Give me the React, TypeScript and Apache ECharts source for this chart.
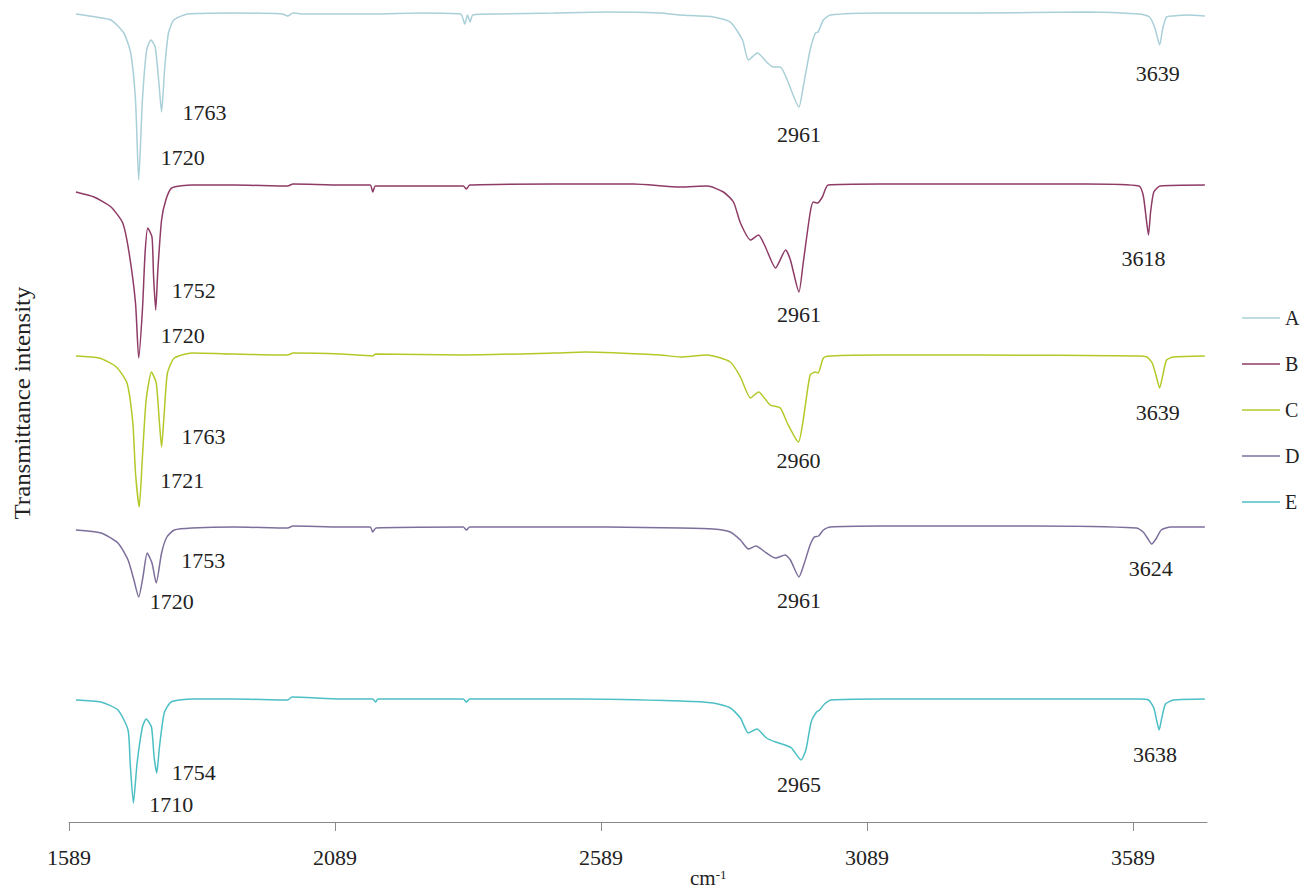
import { useEffect, useRef } from "react";
import * as echarts from "echarts";

// ---------- data ----------
const seriesNames = ["A", "B", "C", "D", "E"];

const xMin = 1589;
const xMax = 3728;
const xTickValues = [1589, 2089, 2589, 3089, 3589];

// [wavenumber (cm-1), transmittance (a.u., stacked offset)]
const spectrumA: [number, number][] = [
  [1602, 808], [1640, 805], [1668, 802], [1692, 789], [1705, 769], [1714, 722], [1720, 642],
  [1727, 722], [1735, 772], [1743, 782], [1751, 775], [1758, 739], [1763, 710], [1769, 755],
  [1776, 789], [1786, 802], [1812, 808], [1900, 809], [1990, 808], [2000, 806], [2010, 809],
  [2030, 808], [2160, 808], [2250, 809], [2325, 808], [2333, 798], [2338, 807], [2343, 800],
  [2348, 807], [2400, 808], [2500, 809], [2600, 810], [2700, 809], [2738, 807], [2800, 805],
  [2832, 800], [2855, 782], [2866, 762], [2883, 769], [2902, 759], [2913, 755], [2926, 755],
  [2939, 742], [2961, 715], [2969, 735], [2982, 772], [2992, 789], [2997, 790], [3007, 802],
  [3020, 807], [3114, 809], [3300, 809], [3500, 810], [3600, 808], [3620, 805], [3630, 794],
  [3639, 777], [3645, 794], [3652, 805], [3665, 806], [3690, 807], [3724, 806],
];

const spectrumB: [number, number][] = [
  [1602, 630], [1636, 625], [1668, 615], [1690, 599], [1702, 569], [1714, 519], [1720, 464],
  [1727, 512], [1732, 569], [1737, 594], [1745, 585], [1748, 545], [1752, 512], [1756, 552],
  [1763, 602], [1771, 622], [1782, 634], [1820, 637], [1900, 637], [2000, 636], [2010, 638],
  [2100, 637], [2155, 637], [2160, 630], [2165, 636], [2330, 636], [2336, 633], [2342, 637],
  [2500, 638], [2650, 638], [2738, 635], [2789, 636], [2819, 630], [2838, 620], [2851, 599],
  [2870, 582], [2885, 587], [2898, 575], [2917, 554], [2936, 572], [2945, 562], [2961, 530],
  [2969, 559], [2982, 609], [2988, 620], [2996, 619], [3005, 625], [3016, 637], [3114, 638],
  [3300, 638], [3500, 638], [3600, 636], [3608, 627], [3613, 607], [3618, 587], [3622, 610],
  [3628, 630], [3640, 636], [3724, 637],
];

const spectrumC: [number, number][] = [
  [1602, 466], [1646, 464], [1678, 455], [1698, 439], [1709, 399], [1714, 349], [1721, 315],
  [1727, 365], [1734, 422], [1744, 450], [1753, 439], [1759, 399], [1763, 375], [1768, 409],
  [1774, 449], [1787, 464], [1820, 469], [1900, 468], [2000, 467], [2010, 469], [2100, 468],
  [2160, 466], [2165, 468], [2330, 467], [2500, 469], [2560, 470], [2700, 467], [2738, 465],
  [2789, 467], [2832, 460], [2851, 445], [2870, 424], [2885, 430], [2907, 417], [2926, 414],
  [2939, 399], [2960, 380], [2969, 402], [2982, 447], [2992, 450], [2997, 449], [3007, 464],
  [3020, 466], [3114, 467], [3300, 467], [3600, 466], [3615, 465], [3625, 459], [3632, 447],
  [3639, 434], [3645, 447], [3652, 462], [3665, 465], [3724, 466],
];

const spectrumD: [number, number][] = [
  [1602, 292], [1649, 289], [1681, 279], [1700, 262], [1711, 242], [1720, 225], [1728, 245],
  [1736, 269], [1745, 259], [1753, 239], [1763, 269], [1773, 285], [1787, 292], [1820, 294],
  [1900, 295], [2000, 294], [2010, 296], [2100, 295], [2155, 295], [2160, 290], [2166, 294],
  [2330, 295], [2336, 292], [2342, 295], [2600, 295], [2738, 294], [2800, 293], [2832, 290],
  [2851, 282], [2866, 273], [2880, 276], [2900, 269], [2917, 264], [2935, 267], [2945, 262],
  [2961, 245], [2970, 257], [2982, 277], [2990, 285], [2998, 286], [3007, 292], [3020, 295],
  [3114, 296], [3400, 296], [3595, 294], [3608, 290], [3616, 284], [3624, 278], [3632, 283],
  [3642, 292], [3660, 295], [3724, 295],
];

const spectrumE: [number, number][] = [
  [1602, 122], [1649, 120], [1681, 112], [1700, 92], [1704, 59], [1710, 19], [1717, 59],
  [1727, 95], [1734, 103], [1744, 95], [1749, 65], [1754, 49], [1759, 75], [1768, 109],
  [1781, 120], [1820, 123], [1900, 123], [2000, 122], [2008, 125], [2100, 123], [2160, 123],
  [2165, 120], [2170, 123], [2330, 123], [2336, 120], [2342, 123], [2550, 123], [2738, 121],
  [2800, 119], [2832, 114], [2851, 104], [2866, 89], [2882, 93], [2900, 84], [2917, 80],
  [2935, 77], [2947, 74], [2965, 62], [2974, 72], [2984, 100], [2994, 110], [3000, 112],
  [3009, 118], [3022, 122], [3114, 123], [3600, 123], [3618, 122], [3628, 114], [3634, 100],
  [3638, 92], [3643, 104], [3650, 118], [3665, 122], [3724, 123],
];

const peaksA = [1720, 1763, 2961, 3639];
const peaksB = [1720, 1752, 2961, 3618];
const peaksC = [1721, 1763, 2960, 3639];
const peaksD = [1720, 1753, 2961, 3624];
const peaksE = [1710, 1754, 2965, 3638];

// ---------- styling ----------
const colors = ["#a9cfd8", "#8e3b66", "#b4c828", "#7d6f9b", "#4cbfc4"];
const FONT = "'Liberation Serif', 'Times New Roman', serif";

const peakLabelOffsets: [number, number][][] = [
  [[44, -23], [43, 0], [0, 27], [-2, 28]],
  [[44, -23], [38, -20], [0, 22], [-5, 23]],
  [[43, -27], [42, -11], [0, 18], [-2, 24]],
  [[33, 4], [47, -23], [0, 23], [-1, 24]],
  [[38, 1], [37, -1], [-2, 24], [-4, 24]],
];

const spectra = [spectrumA, spectrumB, spectrumC, spectrumD, spectrumE];
const peaks = [peaksA, peaksB, peaksC, peaksD, peaksE];

function valueAt(data: [number, number][], w: number): number {
  const p = data.find((d) => d[0] === w);
  return p ? p[1] : 0;
}

export default function App() {
  const ref = useRef<HTMLDivElement>(null);

  useEffect(() => {
    if (!ref.current) return;
    const chart = echarts.init(ref.current, undefined, { renderer: "svg" });

    const option: any = {
      animation: false,
      backgroundColor: "#ffffff",
      grid: { left: 69, right: 95, top: 10, bottom: 71 },
      legend: {
        orient: "vertical",
        left: 1237,
        top: 303,
        icon: "rect",
        itemWidth: 38,
        itemHeight: 1.5,
        itemGap: 26,
        data: seriesNames,
        textStyle: { fontFamily: FONT, fontSize: 20, color: "#222", lineHeight: 20 },
      },
      xAxis: {
        type: "value",
        min: xMin,
        max: xMax,
        splitLine: { show: false },
        axisLine: { show: true, lineStyle: { color: "#8a8a8a", width: 1 } },
        axisTick: {
          show: true,
          length: 9,
          customValues: xTickValues,
          lineStyle: { color: "#8a8a8a" },
        },
        axisLabel: {
          show: true,
          customValues: xTickValues,
          margin: 24,
          fontFamily: FONT,
          fontSize: 22,
          color: "#222",
          formatter: (v: number) => String(v),
        },
      },
      yAxis: {
        type: "value",
        min: 0,
        max: 812,
        show: false,
      },
      graphic: [
        {
          type: "text",
          x: 22,
          y: 403,
          rotation: Math.PI / 2,
          scaleX: 1.08,
          silent: true,
          style: {
            text: "Transmittance intensity",
            fontFamily: FONT,
            fontSize: 23,
            fill: "#222",
            align: "center",
            verticalAlign: "middle",
            textAlign: "center",
            textVerticalAlign: "middle",
          },
        },
        {
          type: "text",
          x: 690,
          y: 878,
          silent: true,
          style: {
            text: "{a|cm}{b|-1}",
            fill: "#222",
            verticalAlign: "middle",
            textVerticalAlign: "middle",
            rich: {
              a: { fontFamily: FONT, fontSize: 21, fill: "#222", lineHeight: 20 },
              b: { fontFamily: FONT, fontSize: 13, fill: "#222", verticalAlign: "top", lineHeight: 12 },
            },
          },
        },
      ],
      series: spectra.map((data, i) => ({
        name: seriesNames[i],
        type: "line",
        data,
        symbol: "none",
        showSymbol: false,
        smooth: 0.2,
        lineStyle: { color: colors[i], width: 1.5 },
        itemStyle: { color: colors[i] },
        z: 2,
        markPoint: {
          symbol: "circle",
          symbolSize: 1,
          silent: true,
          itemStyle: { color: "rgba(0,0,0,0)" },
          label: {
            show: true,
            position: "inside",
            formatter: "{b}",
            fontFamily: FONT,
            fontSize: 22,
            color: "#222",
          },
          data: peaks[i].map((w, j) => ({
            name: String(w),
            coord: [w, valueAt(data, w)],
            label: { offset: peakLabelOffsets[i][j] },
          })),
        },
      })),
    };

    chart.setOption(option);
    return () => chart.dispose();
  }, []);

  return (
    <div
      ref={ref}
      style={{ position: "absolute", left: 0, top: 0, width: 1302, height: 893 }}
    />
  );
}
